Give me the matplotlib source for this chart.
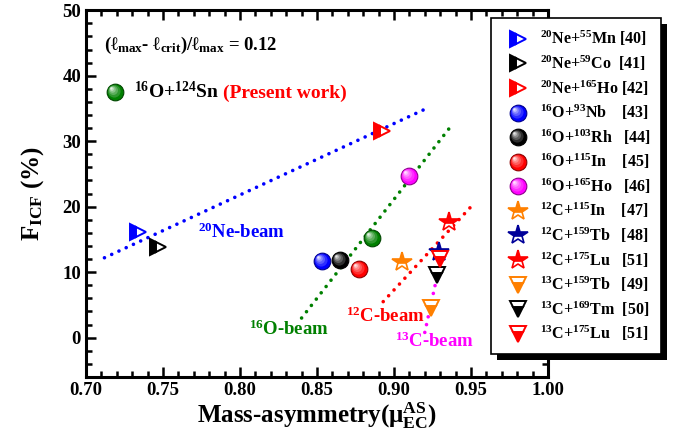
import numpy as np
import matplotlib
matplotlib.use("Agg")
import matplotlib.pyplot as plt
from matplotlib.colors import to_rgb
from matplotlib.markers import MarkerStyle
from matplotlib.transforms import Affine2D
from matplotlib.lines import Line2D
from matplotlib.patches import Rectangle
from matplotlib.legend_handler import HandlerBase

plt.rcParams['font.family'] = 'Liberation Serif'
plt.rcParams['font.weight'] = 'bold'
plt.rcParams['axes.labelweight'] = 'bold'
plt.rcParams['mathtext.fontset'] = 'custom'
plt.rcParams['mathtext.rm'] = 'Liberation Serif:bold'
plt.rcParams['mathtext.bf'] = 'Liberation Serif:bold'
plt.rcParams['mathtext.it'] = 'Liberation Serif:italic:bold'
plt.rcParams['mathtext.default'] = 'bf'

# systems: label, mass asymmetry, F_ICF (%)
ne_labels = [r'$^{20}$Ne+$^{55}$Mn [40]', r'$^{20}$Ne+$^{59}$Co  [41]', r'$^{20}$Ne+$^{165}$Ho [42]']
ne_mu = [0.734, 0.747, 0.892]
ne_f = [16.2, 13.9, 31.6]
ne_colors = ['blue', 'black', 'red']

o_labels = [r'$^{16}$O+$^{93}$Nb    [43]', r'$^{16}$O+$^{103}$Rh   [44]', r'$^{16}$O+$^{115}$In    [45]', r'$^{16}$O+$^{165}$Ho   [46]']
o_mu = [0.853, 0.865, 0.877, 0.910]
o_f = [11.7, 11.9, 10.5, 24.7]
o_colors = ['blue', 'black', 'red', 'magenta']

c12_labels = [r'$^{12}$C+$^{115}$In    [47]', r'$^{12}$C+$^{159}$Tb   [48]', r'$^{12}$C+$^{175}$Lu   [51]']
c12_mu = [0.905, 0.929, 0.936]
c12_f = [11.6, 13.1, 17.7]
c12_colors = ['#ff8000', '#000099', 'red']

c13_labels = [r'$^{13}$C+$^{159}$Tb   [49]', r'$^{13}$C+$^{169}$Tm  [50]', r'$^{13}$C+$^{175}$Lu   [51]']
c13_mu = [0.924, 0.928, 0.930]
c13_f = [4.6, 9.6, 12.0]
c13_colors = ['#ff8000', 'black', 'red']

present_mu = 0.886
present_f = 15.2

# beam systematics (end points of the dotted trend lines)
ne_line_mu = [0.712, 0.923]
ne_line_f = [12.2, 35.2]
o_line_mu = [0.840, 0.938]
o_line_f = [3.0, 32.6]
c12_line_mu = [0.893, 0.950]
c12_line_f = [5.5, 20.0]
c13_line_mu = [0.920, 0.932]
c13_line_f = [0.8, 13.7]

SPHERE_MS = 12
LAYERS = [0.75, 0.55, 0.38, 0.24, 0.13]


def sphere_layers(color):
    # shaded ball: base disc plus lighter discs pulled toward the upper left
    base = np.array(to_rgb(color))
    out = [(MarkerStyle('o'), tuple(base), tuple(base * 0.55))]
    for i, frac in enumerate(LAYERS):
        mix = 0.18 * (i + 1)
        c = base * (1 - mix) + mix
        off = (1 - frac) * 0.28
        m = MarkerStyle('o', transform=Affine2D().scale(frac).translate(-off, off))
        out.append((m, tuple(c), 'none'))
    return out


def sphere(ax, x, y, color, z=5):
    for i, (m, fc, ec) in enumerate(sphere_layers(color)):
        ax.plot([x], [y], ls='none', marker=m, ms=SPHERE_MS, mfc=fc, mec=ec, mew=0.8,
                zorder=z + 0.01 * i)


class Sphere:
    def __init__(self, color):
        self.color = color


class HandlerSphere(HandlerBase):
    def create_artists(self, legend, orig_handle, xdescent, ydescent, width, height,
                       fontsize, trans):
        cx = width / 2 - xdescent
        cy = height / 2 - ydescent
        arts = []
        for m, fc, ec in sphere_layers(orig_handle.color):
            ln = Line2D([cx], [cy], ls='none', marker=m, ms=SPHERE_MS, mfc=fc, mec=ec,
                        mew=0.8, transform=trans)
            arts.append(ln)
        return arts


fig = plt.figure(figsize=(6.85, 4.44), dpi=100)
ax = fig.add_axes([0.1255, 0.151, 0.6745, 0.826])

dot = dict(ls=(0, (0.01, 2.2)), lw=2.6, dash_capstyle='round', zorder=3)
ax.plot(ne_line_mu, ne_line_f, color='blue', **dot)
ax.plot(o_line_mu, o_line_f, color='#008000', **dot)
ax.plot(c12_line_mu, c12_line_f, color='red', **dot)
ax.plot(c13_line_mu, c13_line_f, color='magenta', **dot)

handles, labels = [], []
for x, y, c, lab in zip(ne_mu, ne_f, ne_colors, ne_labels):
    h, = ax.plot([x], [y], '>', ms=12, mfc=c, mec=c, mew=1.4, fillstyle='left',
                 markerfacecoloralt='white', zorder=6)
    handles.append(h); labels.append(lab)
for x, y, c, lab in zip(o_mu, o_f, o_colors, o_labels):
    sphere(ax, x, y, c)
    handles.append(Sphere(c)); labels.append(lab)
for x, y, c, lab in zip(c12_mu, c12_f, c12_colors, c12_labels):
    h, = ax.plot([x], [y], '*', ms=15, mfc=c, mec=c, mew=1.2, fillstyle='top',
                 markerfacecoloralt='white', zorder=6)
    handles.append(h); labels.append(lab)
for x, y, c, lab in zip(c13_mu, c13_f, c13_colors, c13_labels):
    h, = ax.plot([x], [y], 'v', ms=12, mfc=c, mec=c, mew=1.4, fillstyle='bottom',
                 markerfacecoloralt='white', zorder=6)
    handles.append(h); labels.append(lab)

sphere(ax, present_mu, present_f, '#008000')

# present work key
sphere(ax, 0.719, 37.5, '#008000')
ax.text(0.731, 36.6, r'$^{16}$O+$^{124}$Sn', fontsize=14, color='black')
ax.text(0.789, 36.6, '(Present work)', fontsize=14, color='red')
ax.text(0.712, 44.0, r'$(\ell_{max}$- $\ell_{crit})/\ell_{max}$ = 0.12', fontsize=13.5)

# beam labels
ax.text(0.773, 15.2, r'$^{20}$Ne-beam', fontsize=13.5, color='blue')
ax.text(0.806, 0.4, r'$^{16}$O-beam', fontsize=13.5, color='#008000')
ax.text(0.869, 2.4, r'$^{12}$C-beam', fontsize=13.5, color='red')
ax.text(0.9006, -1.5, r'$^{13}$C-beam', fontsize=13.5, color='magenta')

ax.set_xlim(0.70, 1.00)
ax.set_ylim(-6, 50)
ax.set_xticks(np.arange(0.70, 1.001, 0.05))
ax.set_yticks(np.arange(0, 51, 10))
ax.set_xticks(np.arange(0.70, 1.001, 0.01), minor=True)
ax.set_yticks(np.arange(-6, 51, 2), minor=True)
ax.tick_params(which='both', direction='in', top=True, right=True, width=1.8, labelsize=13.5)
ax.tick_params(which='major', length=7)
ax.tick_params(which='minor', length=4)
for s in ax.spines.values():
    s.set_linewidth(2.2)
ax.set_xlabel(r'Mass-asymmetry($\mu^{AS}_{EC}$)', fontsize=18, labelpad=1)
ax.set_ylabel(r'F$_{ICF}$ (%)', fontsize=18, labelpad=12)

# legend box and its solid drop shadow (right and bottom strips)
W, H = 685.0, 444.0
box = (491 / W, 1 - 354 / H, 170 / W, 336 / H)
sh = 6
fig.add_artist(Rectangle(box[:2], box[2], box[3], transform=fig.transFigure,
                         facecolor='white', edgecolor='black', linewidth=1.2, zorder=9))
fig.add_artist(Rectangle((box[0] + box[2], box[1] - sh / H), sh / W, box[3],
                         transform=fig.transFigure, facecolor='black', edgecolor='none',
                         zorder=11))
fig.add_artist(Rectangle((box[0] + sh / W, box[1] - sh / H), box[2], sh / H,
                         transform=fig.transFigure, facecolor='black', edgecolor='none',
                         zorder=11))

leg = fig.legend(handles, labels, loc='upper left', bbox_to_anchor=(box[0], box[1] + box[3]),
                 bbox_transform=fig.transFigure, borderaxespad=0, fontsize=11.5,
                 frameon=False, handler_map={Sphere: HandlerSphere()},
                 handlelength=2.0, handletextpad=0.35, labelspacing=0.33, borderpad=0.7)
leg.set_zorder(10)

fig.savefig('out.png', dpi=100)
